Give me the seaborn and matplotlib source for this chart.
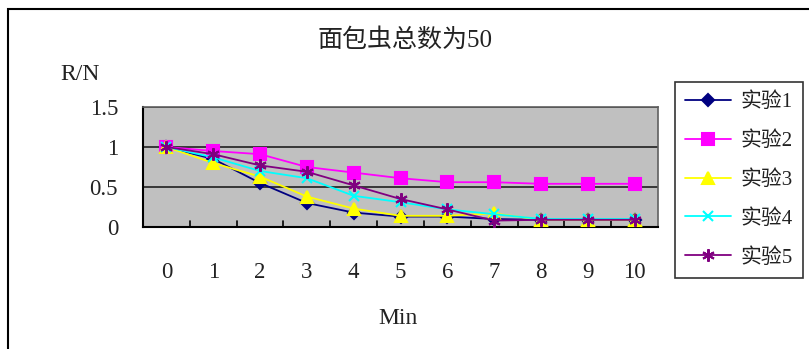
import matplotlib
matplotlib.use("Agg")
import matplotlib.pyplot as plt
import seaborn as sns
import pandas as pd
from matplotlib.patches import Rectangle

minutes = [0, 1, 2, 3, 4, 5, 6, 7, 8, 9, 10]
exp1 = [1.0, 0.85, 0.55, 0.30, 0.18, 0.13, 0.13, 0.10, 0.09, 0.09, 0.09]
exp2 = [1.0, 0.95, 0.91, 0.75, 0.68, 0.61, 0.56, 0.56, 0.54, 0.54, 0.54]
exp3 = [1.0, 0.80, 0.63, 0.38, 0.23, 0.14, 0.14, 0.17, 0.09, 0.09, 0.09]
exp4 = [1.0, 0.87, 0.70, 0.61, 0.39, 0.31, 0.22, 0.16, 0.10, 0.10, 0.10]
exp5 = [1.0, 0.91, 0.77, 0.69, 0.52, 0.35, 0.22, 0.08, 0.09, 0.09, 0.09]
series_names = ["实验1", "实验2", "实验3", "实验4", "实验5"]
title = "面包虫总数为50"
ytick_vals = [0, 0.5, 1, 1.5]
ytick_labels = ["0", "0.5", "1", "1.5"]

colors = ["#000080", "#FF00FF", "#FFFF00", "#00FFFF", "#800080"]
markers = ["D", "s", "^", "x", (6, 2, 0)]
msizes = [6, 8, 9, 7, 9]

sns.set_theme(style="white")
FONT = ["Liberation Serif", "Noto Sans CJK SC", "DejaVu Sans"]
plt.rcParams["font.family"] = FONT

fig = plt.figure(figsize=(8.09, 3.49), dpi=100)
W, H = 809, 349
ax = fig.add_axes([143 / W, 1 - 227 / H, (658 - 143) / W, (227 - 107) / H])
ax.set_facecolor("#C0C0C0")

# outer chart border
fig.patches.append(Rectangle((8 / W, -0.1), 1.2, 1 - 9 / H + 0.1, transform=fig.transFigure,
                             fill=False, edgecolor="black", linewidth=1.5))

all_series = [exp1, exp2, exp3, exp4, exp5]
for name, vals, c, m, ms in zip(series_names, all_series, colors, markers, msizes):
    df = pd.DataFrame({"Min": minutes, "RN": vals})
    sns.lineplot(data=df, x="Min", y="RN", ax=ax, color=c, marker=m, markersize=ms,
                 markeredgecolor=c, markerfacecolor=c, markeredgewidth=1.5,
                 linewidth=1.3, label=name, clip_on=False, zorder=3)

ax.set_xlim(-0.5, 10.5)
ax.set_ylim(0, 1.5)
for yv in [0.5, 1.0, 1.5]:
    ax.axhline(yv, color="#202020", linewidth=1.2, zorder=1)

ax.set_yticks(ytick_vals)
ax.set_yticklabels(ytick_labels, fontsize=16.5, color="#222222")
ax.set_xticks(minutes)
ax.set_xticklabels([str(m) for m in minutes], fontsize=16.5, color="#222222")
ax.tick_params(axis="x", length=0, pad=25)
ax.tick_params(axis="y", length=0, pad=18)

# category boundary ticks (upward from bottom axis)
for b in [i + 0.5 for i in minutes[:-1]]:
    ax.plot([b, b], [0, 0.07], color="black", linewidth=1.2, zorder=2)

for s in ["left", "bottom"]:
    ax.spines[s].set_visible(True)
    ax.spines[s].set_color("black")
    ax.spines[s].set_linewidth(1.5)
for s in ["top", "right"]:
    ax.spines[s].set_visible(True)
    ax.spines[s].set_color("#606060")
    ax.spines[s].set_linewidth(1.2)

ax.set_xlabel("")
ax.set_ylabel("")
fig.text(405 / W, 1 - 40 / H, title, ha="center", va="center", fontsize=18, color="#222222")
fig.text(80 / W, 1 - 74 / H, "R/N", ha="center", va="center", fontsize=17, color="#222222")
fig.text(398 / W, 1 - 318 / H, "Min", ha="center", va="center", fontsize=17, color="#222222")

leg = ax.legend(loc="upper left", bbox_to_anchor=(675 / W, 1 - 82 / H), bbox_transform=fig.transFigure,
                frameon=True, fancybox=False, edgecolor="black", fontsize=15,
                handlelength=2.2, labelspacing=0.92, borderpad=0.5, handletextpad=0.45,
                borderaxespad=0)
leg.get_frame().set_linewidth(1.2)
for t in leg.get_texts():
    t.set_color("#222222")

fig.savefig("out.png", dpi=100)
